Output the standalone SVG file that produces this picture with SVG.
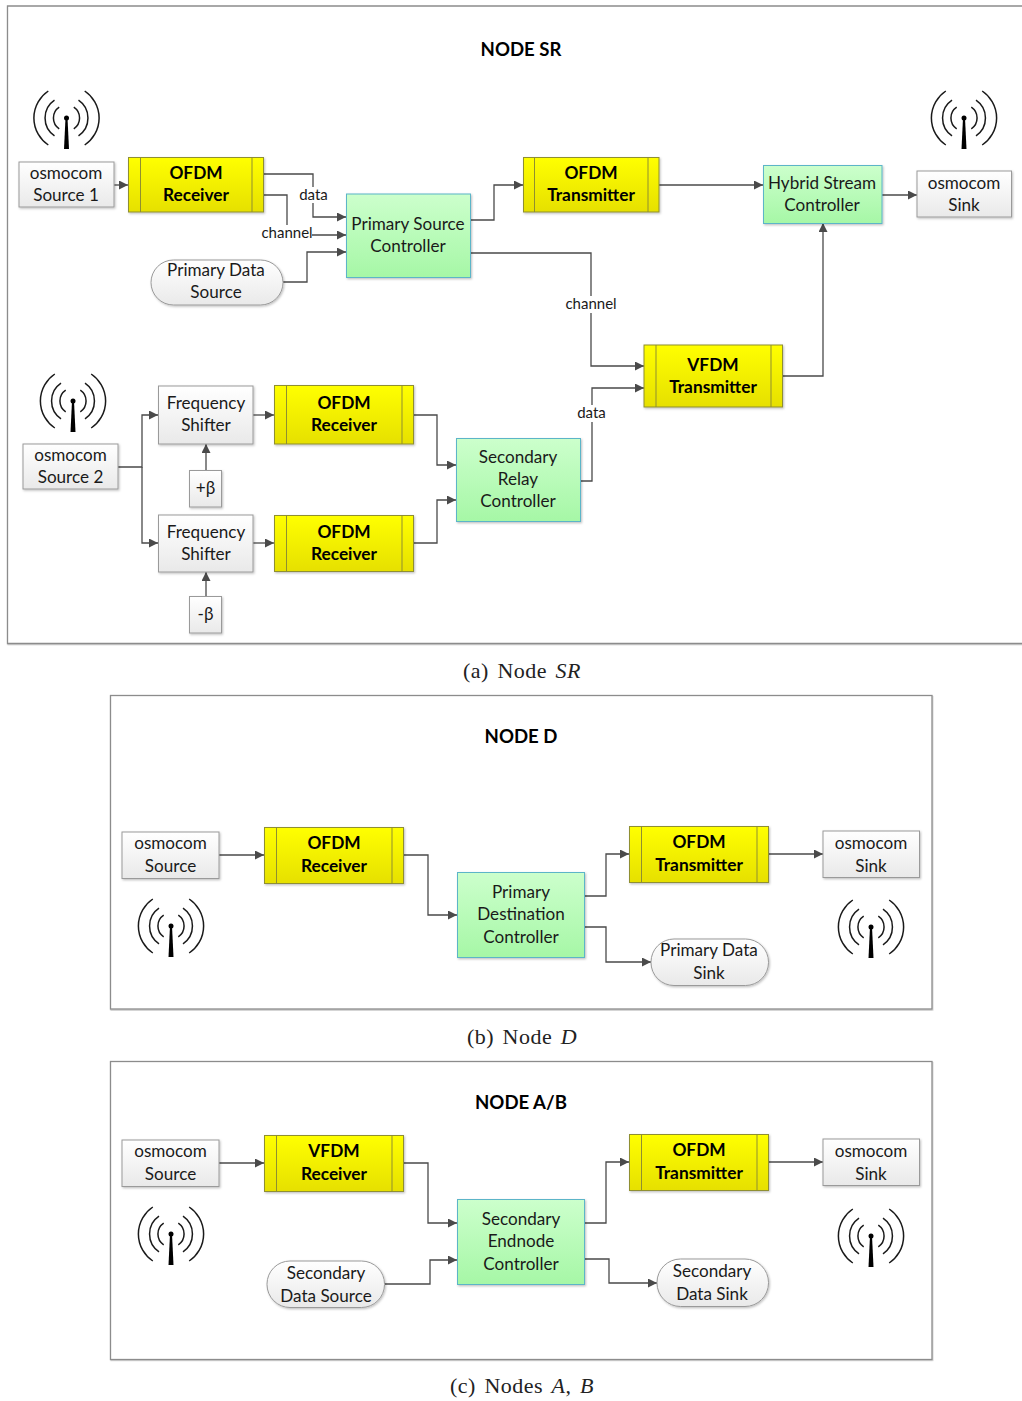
<svg xmlns="http://www.w3.org/2000/svg" width="1022" height="1401" viewBox="0 0 1022 1401">
<style>
text{font-family:"Lato","Open Sans","Liberation Sans",sans-serif;font-size:17.1px;fill:#1a1a1a;text-anchor:middle}
text.b{font-weight:700;font-size:17.3px;fill:#000}
text.t{font-weight:700;font-size:18.6px;fill:#000}
text.l{font-size:15px}
text.cap{font-family:"Liberation Serif",serif;font-size:22px;fill:#222;letter-spacing:.5px;word-spacing:2.5px}
.i{font-style:italic}
.frame{fill:#fff;stroke:#8c8c8c;stroke-width:1.3;filter:url(#fs)}
.y{fill:url(#gy);stroke:#8f8f30;stroke-width:1;filter:url(#s)}
.yl{stroke:#8f8f30;stroke-width:1;fill:none}
.g{fill:url(#gg);stroke:#5bb5c8;stroke-width:1;filter:url(#s)}
.w{fill:url(#gw);stroke:#9a9a9a;stroke-width:1;filter:url(#s)}
.c{fill:none;stroke:#4a4a4a;stroke-width:1.3;marker-end:url(#a)}
.lb{fill:#fff}
.ant path{fill:none;stroke:#1a1a1a;stroke-width:1.5}
.ant polygon{fill:#000;stroke:none}
</style>
<defs>
<linearGradient id="gy" x1="0" y1="0" x2="0" y2="1"><stop offset="0" stop-color="#ffff00"/><stop offset="1" stop-color="#e6e000"/></linearGradient>
<linearGradient id="gg" x1="0" y1="0" x2="0" y2="1"><stop offset="0" stop-color="#ccffcc"/><stop offset="1" stop-color="#a6f7a6"/></linearGradient>
<linearGradient id="gw" x1="0" y1="0" x2="0" y2="1"><stop offset="0" stop-color="#ffffff"/><stop offset="1" stop-color="#e9e9e9"/></linearGradient>
<filter id="s" x="-10%" y="-10%" width="120%" height="125%"><feDropShadow dx="1" dy="1.2" stdDeviation=".8" flood-color="#000" flood-opacity=".25"/></filter>
<filter id="fs" x="-1%" y="-1%" width="102%" height="102%"><feDropShadow dx="0.5" dy="1" stdDeviation=".6" flood-color="#000" flood-opacity=".25"/></filter>
<marker id="a" markerUnits="userSpaceOnUse" markerWidth="10" markerHeight="9" refX="9" refY="4.500" orient="auto"><path d="M0 0L9 4.500L0 9z" fill="#4a4a4a"/></marker>
<g id="antenna" class="ant">
<path d="M7.300-10.800A13 13 0 0 1 7.300 10.800M-7.300-10.800A13 13 0 0 0-7.300 10.800M12-17.800A21.500 21.500 0 0 1 12 17.800M-12-17.800A21.500 21.500 0 0 0-12 17.800M18.200-27A32.500 32.500 0 0 1 18.200 27M-18.200-27A32.500 32.500 0 0 0-18.200 27"/>
<circle cx="0" cy="0" r="2.500" fill="#000"/>
<polygon points="-1,0 1,0 2.500,31 -2.500,31"/>
</g>
</defs>

<g id="frames">
<path class="frame" d="M1030 6H7.500V643.500H1030"/>
<rect class="frame" x="110.500" y="695.500" width="821.500" height="313.500"/>
<rect class="frame" x="110.500" y="1061.500" width="821.500" height="298"/>
</g>
<g id="titles">
<text class="t" x="521" y="56">NODE SR</text>
<text class="t" x="521" y="743">NODE D</text>
<text class="t" x="521" y="1109">NODE A/B</text>
</g>

<g id="connectors">
<path class="c" d="M114 185H128"/>
<path class="c" d="M264 174H313V217H346"/>
<path class="c" d="M264 195H287V235H346"/>
<path class="c" d="M283 282H307V252H346"/>
<path class="c" d="M470 220H494V185H523"/>
<path class="c" d="M470 253H591V366H644"/>
<path class="c" d="M659 185H763"/>
<path class="c" d="M882 195H917"/>
<path class="c" d="M783 376H823V223"/>
<path class="c" d="M581 481H592V388H644"/>
<path class="c" d="M118 467H142V415H158"/>
<path class="c" d="M142 467V543H158"/>
<path class="c" d="M253 415H274"/>
<path class="c" d="M253 543H274"/>
<path class="c" d="M206 470V444"/>
<path class="c" d="M206 596V572"/>
<path class="c" d="M414 415H437V465H456"/>
<path class="c" d="M414 543H437V500H456"/>
<path class="c" d="M219 855H264"/>
<path class="c" d="M404 855H428V915H457"/>
<path class="c" d="M585 896H606V854H629"/>
<path class="c" d="M585 927H606V962H651"/>
<path class="c" d="M769 854H823"/>
<path class="c" d="M219 1163H264"/>
<path class="c" d="M404 1163H428V1223H457"/>
<path class="c" d="M585 1223H606V1162H629"/>
<path class="c" d="M769 1162H823"/>
<path class="c" d="M385 1284H430V1260H457"/>
<path class="c" d="M585 1259H609V1283H657"/>
<rect class="lb" x="297" y="187" width="33" height="16"/>
<text class="l" x="313.500" y="200">data</text>
<rect class="lb" x="261" y="225" width="51" height="16"/>
<text class="l" x="287" y="238">channel</text>
<rect class="lb" x="565" y="296" width="52" height="17"/>
<text class="l" x="591" y="309">channel</text>
<rect class="lb" x="577" y="405" width="30" height="17"/>
<text class="l" x="591.500" y="418">data</text>
</g>

<g id="ant-sr-1"><use href="#antenna" x="66.500" y="118"/></g>
<g id="ant-sr-2"><use href="#antenna" x="964" y="118"/></g>
<g id="ant-sr-3"><use href="#antenna" x="73" y="401"/></g>
<g id="ant-d-1"><use href="#antenna" x="171" y="926"/></g>
<g id="ant-d-2"><use href="#antenna" x="871" y="927"/></g>
<g id="ant-ab-1"><use href="#antenna" x="171" y="1234"/></g>
<g id="ant-ab-2"><use href="#antenna" x="871" y="1236"/></g>

<g id="sr-source1"><rect class="w" x="19" y="162" width="95" height="45"/><text x="66" y="179">osmocom</text><text x="66" y="201">Source 1</text></g>
<g id="sr-rx1"><rect class="y" x="128.500" y="157.500" width="135" height="54.500"/><path class="yl" d="M140.500 157.500V212M252 157.500V212"/><text class="b" x="196" y="179">OFDM</text><text class="b" x="196" y="201">Receiver</text></g>
<g id="sr-psc"><rect class="g" x="346.500" y="194" width="124" height="83.500"/><text x="408" y="230">Primary Source</text><text x="408" y="252">Controller</text></g>
<g id="sr-pds"><rect class="w" x="151" y="260" width="132" height="45" rx="22.500"/><text x="216" y="276">Primary Data</text><text x="216" y="298">Source</text></g>
<g id="sr-tx1"><rect class="y" x="523.500" y="157.500" width="135.500" height="54.500"/><path class="yl" d="M534.500 157.500V212M648 157.500V212"/><text class="b" x="591" y="179">OFDM</text><text class="b" x="591" y="201">Transmitter</text></g>
<g id="sr-hsc"><rect class="g" x="763.500" y="165.500" width="118.500" height="58"/><text x="822" y="189">Hybrid Stream</text><text x="822" y="211">Controller</text></g>
<g id="sr-sink"><rect class="w" x="917" y="171" width="94.500" height="46"/><text x="964" y="189">osmocom</text><text x="964" y="211">Sink</text></g>
<g id="sr-vfdm"><rect class="y" x="644" y="345" width="138.500" height="62"/><path class="yl" d="M656 345V407M771 345V407"/><text class="b" x="713" y="371">VFDM</text><text class="b" x="713" y="393">Transmitter</text></g>
<g id="sr-source2"><rect class="w" x="23" y="444" width="95" height="45"/><text x="70.500" y="461">osmocom</text><text x="70.500" y="483">Source 2</text></g>
<g id="sr-fs1"><rect class="w" x="158.500" y="386" width="94.500" height="58"/><text x="206" y="409">Frequency</text><text x="206" y="431">Shifter</text></g>
<g id="sr-fs2"><rect class="w" x="158.500" y="515" width="94.500" height="57"/><text x="206" y="538">Frequency</text><text x="206" y="560">Shifter</text></g>
<g id="sr-rx2"><rect class="y" x="274.500" y="385.500" width="139" height="58.500"/><path class="yl" d="M286.500 385.500V444M402 385.500V444"/><text class="b" x="344" y="409">OFDM</text><text class="b" x="344" y="431">Receiver</text></g>
<g id="sr-rx3"><rect class="y" x="274.500" y="515.500" width="139" height="56"/><path class="yl" d="M286.500 515.500V571.500M402 515.500V571.500"/><text class="b" x="344" y="538">OFDM</text><text class="b" x="344" y="560">Receiver</text></g>
<g id="sr-plus"><rect class="w" x="189.500" y="470.500" width="32" height="36.500"/><text x="205.500" y="494">+β</text></g>
<g id="sr-minus"><rect class="w" x="189.500" y="596.500" width="32" height="36.500"/><text x="205.500" y="620">-β</text></g>
<g id="sr-src"><rect class="g" x="456.500" y="438.500" width="124" height="83"/><text x="518" y="463">Secondary</text><text x="518" y="485">Relay</text><text x="518" y="507">Controller</text></g>

<g id="d-source"><rect class="w" x="122" y="832" width="97" height="46.500"/><text x="170.500" y="849">osmocom</text><text x="170.500" y="872">Source</text></g>
<g id="d-rx"><rect class="y" x="264.500" y="827.500" width="139" height="56"/><path class="yl" d="M276.500 827.500V883.500M392 827.500V883.500"/><text class="b" x="334" y="849">OFDM</text><text class="b" x="334" y="872">Receiver</text></g>
<g id="d-pdc"><rect class="g" x="457.500" y="872.500" width="127" height="85"/><text x="521" y="898">Primary</text><text x="521" y="920">Destination</text><text x="521" y="943">Controller</text></g>
<g id="d-tx"><rect class="y" x="629.500" y="826.500" width="139" height="56"/><path class="yl" d="M641.500 826.500V882.500M757 826.500V882.500"/><text class="b" x="699" y="848">OFDM</text><text class="b" x="699" y="871">Transmitter</text></g>
<g id="d-sink"><rect class="w" x="823" y="831" width="96.500" height="46.500"/><text x="871" y="849">osmocom</text><text x="871" y="872">Sink</text></g>
<g id="d-pds"><rect class="w" x="651" y="939" width="117.500" height="46.500" rx="23"/><text x="709" y="956">Primary Data</text><text x="709" y="979">Sink</text></g>

<g id="ab-source"><rect class="w" x="122" y="1140" width="97" height="46.500"/><text x="170.500" y="1157">osmocom</text><text x="170.500" y="1180">Source</text></g>
<g id="ab-rx"><rect class="y" x="264.500" y="1135.500" width="139" height="56"/><path class="yl" d="M276.500 1135.500V1191.500M392 1135.500V1191.500"/><text class="b" x="334" y="1157">VFDM</text><text class="b" x="334" y="1180">Receiver</text></g>
<g id="ab-sec"><rect class="g" x="457.500" y="1199.500" width="127" height="85"/><text x="521" y="1225">Secondary</text><text x="521" y="1247">Endnode</text><text x="521" y="1270">Controller</text></g>
<g id="ab-tx"><rect class="y" x="629.500" y="1134.500" width="139" height="56"/><path class="yl" d="M641.500 1134.500V1190.500M757 1134.500V1190.500"/><text class="b" x="699" y="1156">OFDM</text><text class="b" x="699" y="1179">Transmitter</text></g>
<g id="ab-sink"><rect class="w" x="823" y="1139" width="96.500" height="46.500"/><text x="871" y="1157">osmocom</text><text x="871" y="1180">Sink</text></g>
<g id="ab-sds"><rect class="w" x="267" y="1261" width="117.500" height="46.500" rx="23"/><text x="326" y="1279">Secondary</text><text x="326" y="1302">Data Source</text></g>
<g id="ab-sdk"><rect class="w" x="657" y="1259" width="111.500" height="47.500" rx="23.500"/><text x="712" y="1277">Secondary</text><text x="712" y="1300">Data Sink</text></g>

<g id="captions">
<text class="cap" x="522" y="678">(a) Node <tspan class="i">SR</tspan></text>
<text class="cap" x="522" y="1044">(b) Node <tspan class="i">D</tspan></text>
<text class="cap" x="522" y="1393">(c) Nodes <tspan class="i">A</tspan>, <tspan class="i">B</tspan></text>
</g>
</svg>
